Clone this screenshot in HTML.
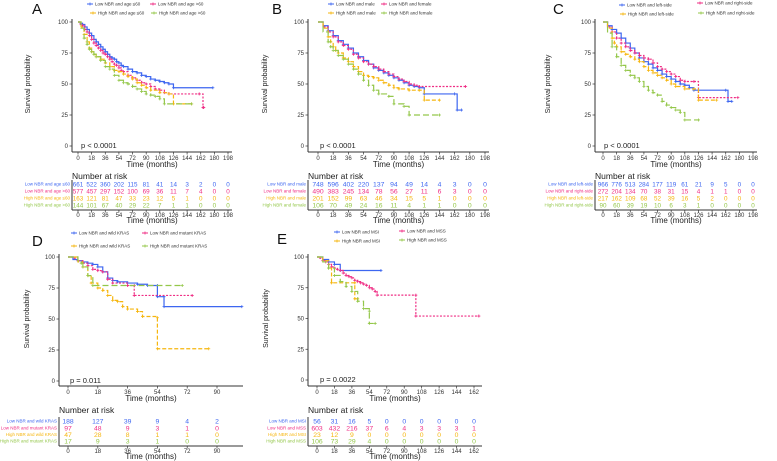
<!DOCTYPE html>
<html><head><meta charset="utf-8"><style>
html,body{margin:0;padding:0;background:#fff;}
svg{display:block;font-family:"Liberation Sans",Arial,sans-serif;}
</style></head><body>
<svg id="fig" width="777" height="461" viewBox="0 0 777 461" xmlns="http://www.w3.org/2000/svg"></svg>
<script>
// ---- data: survival curves [month, percent] ----
const A_lowLe60 = [[0,100],[3,99],[6,98],[9,96],[12,94],[15,91],[18,89],[21,86],[24,84],[27,82],[30,80],[33,78],[36,76],[39,74],[42,72],[45,71],[48,70],[51,68],[54,67],[57,65],[60,64],[66,62],[72,60],[78,59],[84,57],[90,56],[96,54],[102,53],[108,52],[114,51],[120,50],[126,47],[178,47]];
const A_lowGt60 = [[0,100],[3,98],[6,97],[9,94],[12,92],[15,89],[18,86],[21,83],[24,81],[27,79],[30,77],[33,75],[36,74],[39,72],[42,70],[45,68],[48,66],[51,65],[54,63],[57,61],[60,60],[66,57],[72,55],[78,53],[84,51],[90,50],[96,48],[102,46],[108,45],[114,43],[120,42],[160,42],[165,31],[166,31]];
const A_highLe60 = [[0,100],[4,96],[8,90],[12,84],[15,79],[18,76],[21,74],[24,72],[30,70],[36,67],[42,64],[48,61],[54,60],[60,58],[66,56],[72,54],[78,51],[84,49],[90,47],[96,45],[108,43],[120,42],[126,34],[150,34]];
const A_highGt60 = [[0,100],[4,95],[8,87],[12,82],[15,78],[18,76],[21,74],[24,72],[30,69],[36,64],[42,62],[48,57],[54,53],[60,51],[66,50],[72,48],[78,46],[84,44],[90,42],[96,41],[102,40],[108,38],[114,34],[150,34]];
const B_lowMale = [[0,100],[6,97],[12,93],[18,89],[24,85],[30,82],[36,79],[42,75],[48,72],[54,69],[60,66],[66,63],[72,61],[78,59],[84,57],[90,55],[96,53],[102,51],[108,49],[114,48],[120,47],[126,42],[162,42],[165,29],[170,29]];
const B_lowFemale = [[0,100],[6,96],[12,92],[18,88],[24,84],[30,81],[36,78],[42,74],[48,71],[54,68],[60,66],[66,64],[72,62],[78,60],[84,58],[90,56],[96,54],[102,52],[108,50],[114,49],[120,48],[175,48]];
const B_highMale = [[0,100],[6,95],[12,88],[15,84],[18,80],[21,77],[24,75],[30,71],[36,68],[42,64],[48,60],[54,57],[60,56],[66,55],[72,53],[78,51],[84,49],[90,47],[96,46],[108,45],[120,45],[126,37],[144,37]];
const B_highFemale = [[0,100],[6,92],[12,84],[15,80],[18,77],[24,73],[30,70],[36,66],[42,62],[48,58],[54,53],[60,49],[66,45],[72,42],[84,40],[90,34],[102,32],[108,25],[144,25]];
const C_lowLeft = [[0,100],[6,97],[12,94],[18,91],[24,87],[30,83],[36,79],[42,75],[48,71],[54,68],[60,66],[66,63],[72,61],[78,58],[84,56],[90,54],[96,52],[102,50],[108,49],[114,47],[120,45],[162,45],[165,36],[170,36]];
const C_lowRight = [[0,100],[6,96],[12,92],[18,87],[24,83],[30,80],[36,77],[42,75],[48,73],[54,71],[60,70],[66,67],[72,64],[78,62],[84,60],[90,58],[96,56],[102,53],[108,52],[120,52],[126,39],[178,39]];
const C_highLeft = [[0,100],[6,95],[12,87],[15,83],[18,80],[24,76],[30,74],[36,72],[42,70],[48,68],[54,64],[60,61],[66,59],[72,57],[78,55],[84,53],[90,50],[96,48],[108,46],[120,46],[126,37],[150,37]];
const C_highRight = [[0,100],[6,91],[12,80],[18,72],[24,65],[30,61],[36,57],[42,55],[48,52],[54,48],[60,45],[66,43],[72,41],[78,36],[84,33],[90,31],[96,29],[102,27],[108,21],[126,21]];
const D_lowWild = [[0,100],[3,98],[6,97],[9,96],[12,95],[15,94],[18,92],[21,88],[24,83],[27,81],[30,80],[36,79],[42,78],[48,77],[54,77],[54,68],[58,68],[58,60],[105,60]];
const D_lowMut = [[0,100],[3,99],[6,97],[9,95],[12,93],[15,90],[18,89],[21,88],[24,82],[27,79],[36,77],[40,77],[40,69],[75,69]];
const D_highWild = [[0,100],[6,96],[9,92],[12,85],[14,79],[18,75],[21,73],[24,69],[27,65],[30,64],[33,60],[36,58],[42,56],[45,52],[54,51],[54,26],[85,26]];
const D_highMut = [[0,100],[6,97],[8,95],[9,92],[12,85],[15,77],[69,77]];
const E_lowMSI = [[0,100],[6,98],[12,96],[18,94],[24,89],[66,89]];
const E_lowMSS = [[0,100],[3,99],[6,97],[9,96],[12,94],[15,92],[18,91],[21,90],[24,89],[27,87],[30,85],[33,84],[36,83],[39,81],[42,80],[45,79],[48,78],[51,77],[54,75],[57,74],[60,72],[62,69],[102,69],[102,52],[167,52]];
const E_highMSI = [[0,100],[6,97],[12,91],[15,79],[39,79],[39,66],[42,66]];
const E_highMSS = [[0,100],[6,96],[12,91],[18,85],[24,80],[30,76],[36,72],[42,64],[48,58],[54,56],[54,46],[60,46]];
// ---- data: number at risk ----
const A_risk = [[661,522,360,202,115,81,41,14,3,2,0,0],[577,457,297,152,100,69,36,11,7,4,0,0],[163,121,81,47,33,23,12,5,1,0,0,0],[144,101,67,40,29,22,7,1,1,0,0,0]];
const B_risk = [[748,596,402,220,137,94,49,14,4,3,0,0],[490,383,245,134,78,56,27,11,6,3,0,0],[201,152,99,63,46,34,15,5,1,0,0,0],[106,70,49,24,16,11,4,1,1,0,0,0]];
const C_risk = [[966,776,513,284,177,119,61,21,9,5,0,0],[272,204,134,70,38,31,15,4,1,1,0,0],[217,162,109,68,52,39,16,5,2,0,0,0],[90,60,39,19,10,6,3,1,0,0,0,0]];
const D_risk = [[188,127,39,9,4,2],[97,48,9,3,1,0],[47,28,8,1,1,0],[17,9,3,1,0,0]];
const E_risk = [[56,31,16,5,0,0,0,0,0,0],[603,432,216,37,6,4,3,3,3,1],[23,12,9,0,0,0,0,0,0,0],[106,73,29,4,0,0,0,0,0,0]];
const A_names = ["Low NBR and age \u226460","Low NBR and age >60","High NBR and age \u226460","High NBR and age >60"];
const B_names = ["Low NBR and male","Low NBR and female","High NBR and male","High NBR and female"];
const C_names = ["Low NBR and left-side","Low NBR and right-side","High NBR and left-side","High NBR and right-side"];
const D_names = ["Low NBR and wild KRAS","Low NBR and mutant KRAS","High NBR and wild KRAS","High NBR and mutant KRAS"];
const E_names = ["Low NBR and MSI","Low NBR and MSS","High NBR and MSI","High NBR and MSS"];
const yTicks = [0,25,50,75,100];

const COLORS = ["#3d66f0","#ef2d84","#f6b60f","#94c74a"];
const DASH = ["", "2,1.5", "4,2", "6,3"];
const NS = "http://www.w3.org/2000/svg";
const svg = document.getElementById('fig');
function mk(tag, attrs, parent){const e=document.createElementNS(NS,tag);for(const k in attrs)e.setAttribute(k,attrs[k]);(parent||svg).appendChild(e);return e;}
function txt(s, attrs, parent){const e=mk('text',attrs,parent);e.textContent=s;return e;}

const panels = [
 {id:'a',label:'A',lx:32,ly:14,ax:72,x0:78,x1:228,t1:198,xe:232,y100:22,y0:146,xa:152,tMax:198,curves:[A_lowLe60,A_lowGt60,A_highLe60,A_highGt60],risk:A_risk,names:A_names,
  leg:[[90,4],[153,4],[93,13],[154,13]],p:"p < 0.0001",px:81,py:148,ytx:30,rowY:[184,191,198,205],ta:210,nar:[72,176],fs:6.3},
 {id:'b',label:'B',lx:272,ly:14,ax:308,x0:318,x1:485,t1:198,xe:489,y100:22,y0:146,xa:152,tMax:198,curves:[B_lowMale,B_lowFemale,B_highMale,B_highFemale],risk:B_risk,names:B_names,
  leg:[[331,4],[384,4],[331,13],[384,13]],p:"p < 0.0001",px:320,py:148,ytx:267,rowY:[184,191,198,205],ta:210,nar:[308,176],fs:6.8},
 {id:'c',label:'C',lx:553,ly:14,ax:595,x0:603,x1:753,t1:198,xe:757,y100:22,y0:146,xa:152,tMax:198,curves:[C_lowLeft,C_lowRight,C_highLeft,C_highRight],risk:C_risk,names:C_names,
  leg:[[622,5],[700,3],[623,14],[701,13]],p:"p < 0.0001",px:604,py:148,ytx:550,rowY:[184,191,198,205],ta:210,nar:[595,176],fs:6.3},
 {id:'d',label:'D',lx:32,ly:246,ax:59,x0:68,x1:217,t1:90,xe:243,y100:257,y0:381,xa:386,tMax:90,curves:[D_lowWild,D_lowMut,D_highWild,D_highMut],risk:D_risk,names:D_names,
  leg:[[74,233],[145,233],[74,246],[145,246]],p:"p = 0.011",px:70,py:383,ytx:29,rowY:[421,428,434.5,441],ta:446,nar:[59,410],fs:6.8},
 {id:'e',label:'E',lx:277,ly:244,ax:308,x0:317,x1:474,t1:162,xe:482,y100:257,y0:380,xa:386,tMax:162,curves:[E_lowMSI,E_lowMSS,E_highMSI,E_highMSS],risk:E_risk,names:E_names,
  leg:[[337,232],[402,231],[337,241],[402,240]],p:"p = 0.0022",px:320,py:382,ytx:268,rowY:[421,428,434.5,441],ta:446,nar:[308,410],fs:6.8}
];

panels.forEach(P=>{
  const g = mk('g',{});
  
  
  const xs = t => P.x0 + (P.x1-P.x0)*t/P.t1;
  const ys = v => P.y0 - (P.y0-P.y100)*v/100;
  const lab = txt(P.label,{x:P.lx,y:P.ly,'font-size':15,fill:'#111'},g);
  
  
  const yAx = mk('line',{x1:P.ax,y1:P.y100-3,x2:P.ax,y2:P.xa,stroke:'#333','stroke-width':1},g);
  
  
  const xAx = mk('line',{x1:P.ax,y1:P.xa,x2:P.xe,y2:P.xa,stroke:'#333','stroke-width':1},g);
  
  
  yTicks.forEach(v=>{
    mk('line',{x1:P.ax-2.5,y1:ys(v),x2:P.ax,y2:ys(v),stroke:'#333','stroke-width':0.7},g);
    const t = txt(String(v),{x:P.ax-4,y:ys(v)+2,'font-size':6,'text-anchor':'end',fill:'#333'},g);
    
    
  });
  const tickTimes=[]; for(let t=0;t<=P.tMax;t+=18) tickTimes.push(t);
  tickTimes.forEach(t=>{
    mk('line',{x1:xs(t),y1:P.xa,x2:xs(t),y2:P.xa+2.5,stroke:'#333','stroke-width':0.7},g);
    const l = txt(String(t),{x:xs(t),y:P.xa+8,'font-size':6,'text-anchor':'middle',fill:'#333'},g);
    
    
  });
  const xt = txt('Time  (months)',{x:(P.ax+P.xe)/2,y:P.xa+15,'font-size':8,'text-anchor':'middle',fill:'#222'},g);
  
  
  const cy=(P.y0+P.y100)/2;
  const yt = txt('Survival probability',{x:P.ytx,y:cy,'font-size':7,'text-anchor':'middle',fill:'#222',transform:`rotate(-90 ${P.ytx} ${cy})`},g);
  
  
  const pv = txt(P.p,{x:P.px,y:P.py,'font-size':7.5,fill:'#222'},g);
  
  
  P.curves.forEach((c,i)=>{
    let d='M'+xs(c[0][0])+','+ys(c[0][1]);
    for(let k=1;k<c.length;k++){ d+=' H'+xs(c[k][0])+' V'+ys(c[k][1]); }
    const path = mk('path',{d:d,fill:'none',stroke:COLORS[i],'stroke-width':1.2,'stroke-dasharray':DASH[i]},g);
    
    
    for(let k=2;k<c.length;k++){
      const x=xs(c[k][0]), y=ys(c[k][1]);
      mk('path',{d:`M${x-1.5},${y}H${x+1.5}M${x},${y-1.5}V${y+1.5}`,stroke:COLORS[i],'stroke-width':0.8},g);
    }
  });
  P.leg.forEach((p,i)=>{
    const lg = mk('g',{},g);
    
    
    mk('line',{x1:p[0]-3,y1:p[1],x2:p[0]+3,y2:p[1],stroke:COLORS[i],'stroke-width':1},lg);
    mk('path',{d:`M${p[0]-1.5},${p[1]}H${p[0]+1.5}M${p[0]},${p[1]-1.5}V${p[1]+1.5}`,stroke:COLORS[i],'stroke-width':0.8},lg);
    txt(P.names[i],{x:p[0]+5,y:p[1]+1.5,'font-size':4.5,fill:'#333'},lg);
  });
  const nr = txt('Number at risk',{x:P.nar[0],y:P.nar[1]+3,'font-size':8.5,fill:'#222'},g);
  
  
  mk('line',{x1:P.ax,y1:P.rowY[0]-4,x2:P.ax,y2:P.ta,stroke:'#333','stroke-width':1},g);
  mk('line',{x1:P.ax,y1:P.ta,x2:P.xe,y2:P.ta,stroke:'#333','stroke-width':1},g);
  P.risk.forEach((row,i)=>{
    const rl = txt(P.names[i],{x:P.ax-2,y:P.rowY[i]+1.5,'font-size':4.5,'text-anchor':'end',fill:COLORS[i]},g);
    
    
    row.forEach((n,j)=>{
      txt(String(n),{x:xs(j*18),y:P.rowY[i]+2.5,'font-size':P.fs,'text-anchor':'middle',fill:COLORS[i]},g);
    });
  });
  tickTimes.forEach(t=>{
    mk('line',{x1:xs(t),y1:P.ta,x2:xs(t),y2:P.ta+2.5,stroke:'#333','stroke-width':0.7},g);
    txt(String(t),{x:xs(t),y:P.ta+7,'font-size':6,'text-anchor':'middle',fill:'#333'},g);
  });
  txt('Time  (months)',{x:(P.ax+P.xe)/2,y:P.ta+13,'font-size':8,'text-anchor':'middle',fill:'#222'},g);
});
</script>
</body></html>
